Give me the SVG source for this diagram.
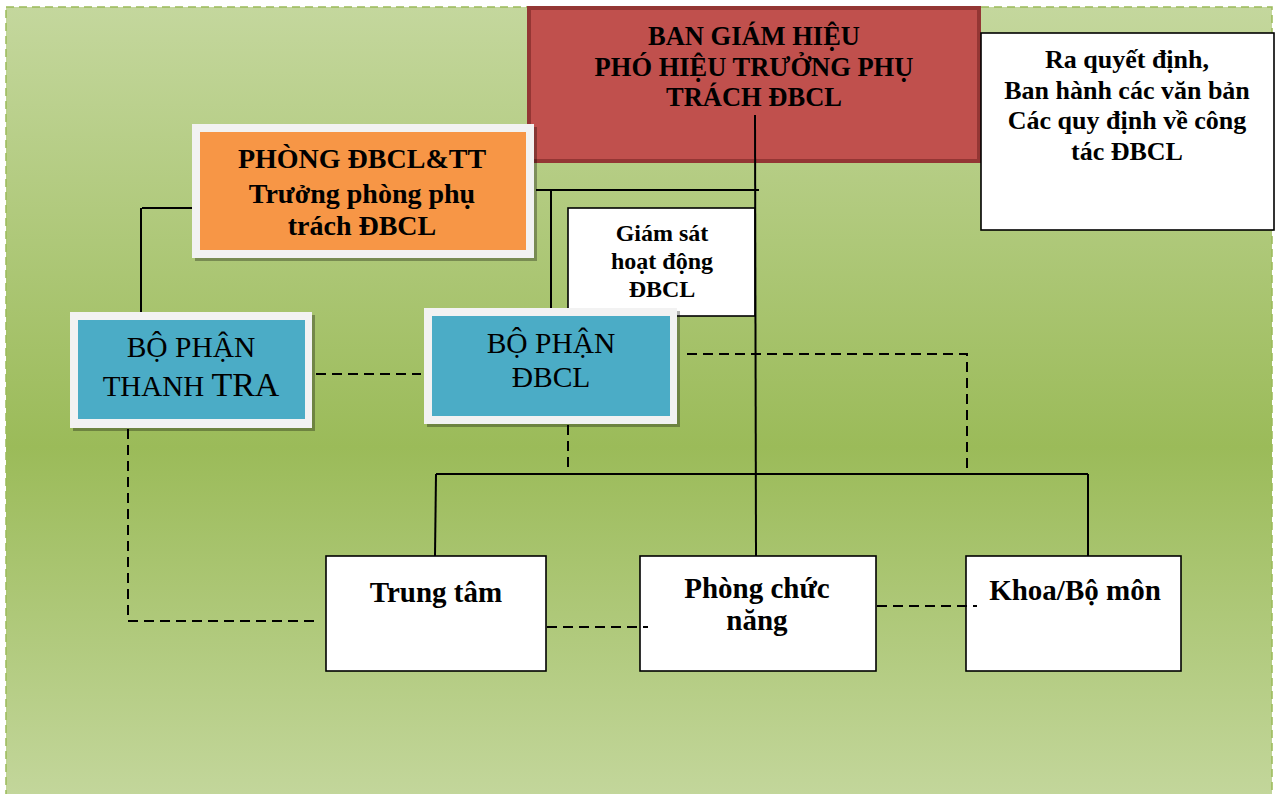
<svg xmlns="http://www.w3.org/2000/svg" width="1278" height="794" viewBox="0 0 1278 794">
<defs>
<linearGradient id="bg" x1="0" y1="0" x2="0" y2="1">
<stop offset="0" stop-color="#c4d79d"/>
<stop offset="0.55" stop-color="#9bbb59"/>
<stop offset="1" stop-color="#c4d79d"/>
</linearGradient>
</defs>
<style>
.t{font-family:"Liberation Serif","Times New Roman",serif;text-anchor:middle;fill:#000}
.b{font-weight:bold}
.ln{stroke:#000;stroke-width:2;fill:none}
.dl{stroke:#000;stroke-width:2;fill:none;stroke-dasharray:10,6}
.wb{fill:#fff;stroke:#000;stroke-width:1.6}
.sh{fill:#000;opacity:0.3}
.frame{fill:#f2f2f2}
.blue{fill:#4bacc6}
</style>
<rect x="6" y="7" width="1266" height="800" fill="url(#bg)" stroke="#9bbb59" stroke-width="1.5" stroke-dasharray="8,5"/>

<g id="ban-giam-hieu">
<rect x="529" y="8" width="450" height="153" fill="#c0504d" stroke="#943634" stroke-width="4"/>
<text class="t b" font-size="26.5" x="754" y="45">BAN GIÁM HIỆU</text>
<text class="t b" font-size="26.5" x="754" y="76">PHÓ HIỆU TRƯỞNG PHỤ</text>
<text class="t b" font-size="26.5" x="754" y="106">TRÁCH ĐBCL</text>
</g>

<g id="ra-quyet-dinh">
<rect class="wb" x="981" y="33" width="293" height="197"/>
<text class="t b" font-size="26" x="1127" y="68">Ra quyết định,</text>
<text class="t b" font-size="26" x="1127" y="99">Ban hành các văn bản</text>
<text class="t b" font-size="26" x="1127" y="129">Các quy định về công</text>
<text class="t b" font-size="26" x="1127" y="160">tác ĐBCL</text>
</g>

<g id="phong-dbcl">
<rect class="sh" x="195" y="127" width="342" height="134" fill="#7a5a2a"/>
<rect class="frame" x="192" y="124" width="342" height="134"/>
<rect x="200" y="132" width="326" height="118" fill="#f79646"/>
<text class="t b" font-size="28" x="362" y="168">PHÒNG ĐBCL&amp;TT</text>
<text class="t b" font-size="28" x="362" y="203">Trưởng phòng phụ</text>
<text class="t b" font-size="28" x="362" y="235">trách ĐBCL</text>
</g>

<g id="giam-sat">
<rect class="wb" x="568" y="208" width="187" height="108"/>
<text class="t b" font-size="24" x="662" y="241">Giám sát</text>
<text class="t b" font-size="24" x="662" y="269">hoạt động</text>
<text class="t b" font-size="24" x="662" y="297">ĐBCL</text>
</g>

<g id="bo-phan-thanh-tra">
<rect class="sh" x="73" y="315" width="242" height="116"/>
<rect class="frame" x="70" y="312" width="242" height="116"/>
<rect class="blue" x="78" y="320" width="227" height="99"/>
<text class="t" font-size="29.5" x="191" y="357">BỘ PHẬN</text>
<text class="t" font-size="29" x="191" y="396">THANH <tspan font-size="34">TRA</tspan></text>
</g>

<g id="bo-phan-dbcl">
<rect class="sh" x="427" y="311" width="253" height="116"/>
<rect class="frame" x="424" y="308" width="253" height="116"/>
<rect class="blue" x="432" y="316" width="238" height="100"/>
<text class="t" font-size="29.5" x="551" y="353">BỘ PHẬN</text>
<text class="t" font-size="29.5" x="551" y="387">ĐBCL</text>
</g>

<g id="trung-tam">
<rect class="wb" x="326" y="556" width="220" height="115" stroke-width="2"/>
<text class="t b" font-size="29" x="436" y="602">Trung tâm</text>
</g>

<g id="phong-chuc-nang">
<rect class="wb" x="640" y="556" width="236" height="115" stroke-width="2"/>
<text class="t b" font-size="29" x="757" y="598">Phòng chức</text>
<text class="t b" font-size="29" x="757" y="630">năng</text>
</g>

<g id="khoa-bo-mon">
<rect class="wb" x="966" y="556" width="215" height="115" stroke-width="2"/>
<text class="t b" font-size="29" x="1075" y="600">Khoa/Bộ môn</text>
</g>

<g id="connectors">
<line class="ln" x1="755" y1="115" x2="756" y2="556"/>
<line class="ln" x1="536" y1="190" x2="759" y2="190"/>
<line class="ln" x1="551" y1="190" x2="551" y2="308"/>
<line class="ln" x1="142" y1="208" x2="192" y2="208"/>
<line class="ln" x1="141" y1="208" x2="141" y2="312"/>
<line class="ln" x1="436" y1="474" x2="1088" y2="474"/>
<line class="ln" x1="436" y1="474" x2="435" y2="556"/>
<line class="ln" x1="1088" y1="474" x2="1088" y2="556"/>
<polyline class="dl" points="128,429 128,621 318,621"/>
<line class="dl" x1="316" y1="374" x2="421" y2="374"/>
<polyline class="dl" points="687,354 967,354 967,474"/>
<line class="dl" x1="568" y1="425" x2="568" y2="474"/>
<line class="dl" x1="547" y1="627" x2="648" y2="627"/>
<line class="dl" x1="877" y1="606" x2="977" y2="606"/>
</g>
</svg>
